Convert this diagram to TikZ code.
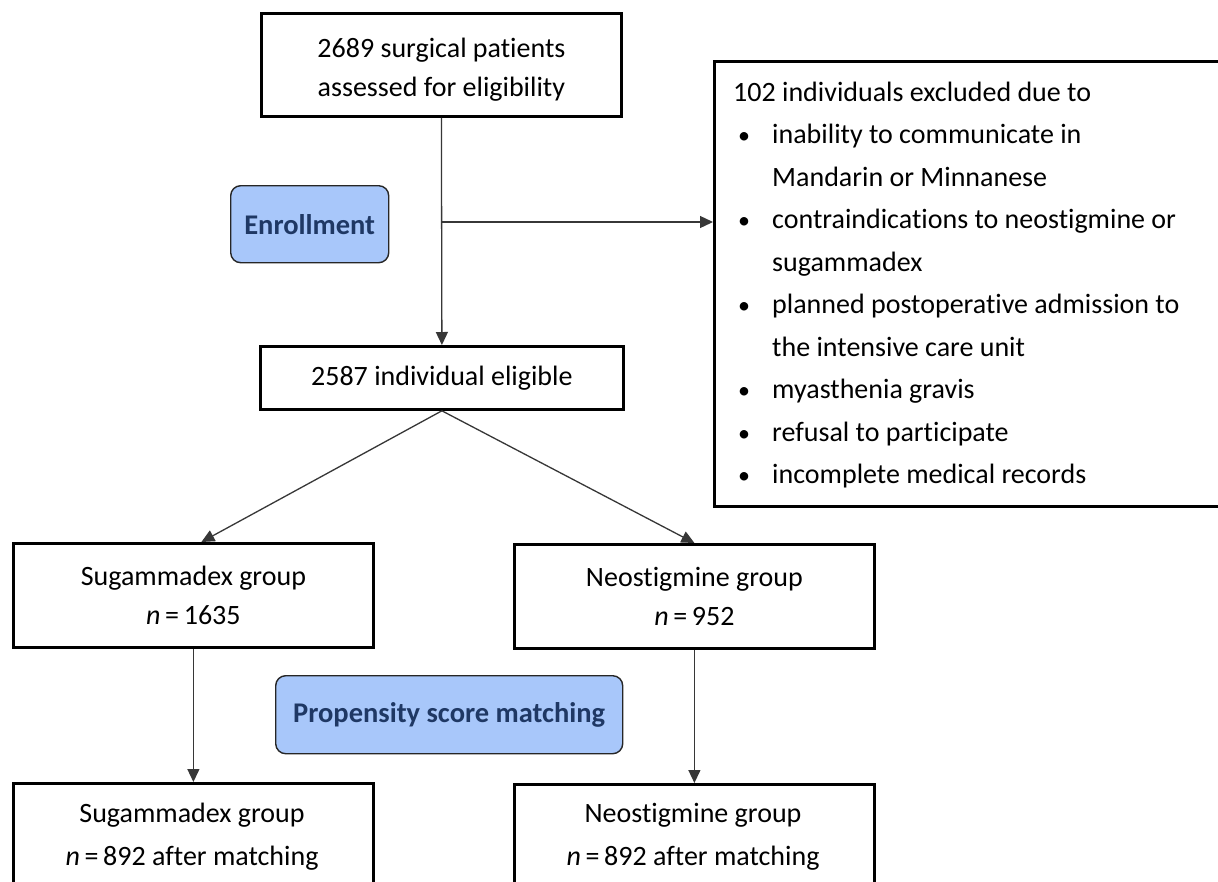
\documentclass[tikz,border=0pt]{standalone}
\usepackage{fontspec}
\setmainfont{Carlito}[RawFeature=-liga]
\usetikzlibrary{arrows.meta}
\definecolor{phase}{RGB}{168,199,250}
\definecolor{navy}{RGB}{31,56,100}
\definecolor{conn}{RGB}{55,55,55}
\begin{document}
\begin{tikzpicture}[x=1pt,y=-1pt,
  box/.style={draw=black,line width=2.8pt,fill=white,inner sep=0pt,anchor=north west,align=center,
    font=\fontsize{28}{39}\selectfont},
  tbox/.style={inner sep=0pt,align=center,font=\fontsize{28}{39}\selectfont},
  phasebox/.style={draw=black!85,line width=1.4pt,fill=phase,rounded corners=10pt,inner sep=0pt,
    anchor=north west,font=\fontsize{28.5}{30}\selectfont\bfseries,text=navy},
  conn/.style={draw=conn,line width=1.3pt},
  arr/.style={conn,-{Triangle[length=13pt,width=12pt]}},
  ltxt/.style={anchor=base west,inner sep=0pt,font=\fontsize{28}{30}\selectfont},
  bul/.style={anchor=base west,inner sep=0pt,font=\fontsize{24}{30}\selectfont}
]
\useasboundingbox (0,0) rectangle (1218,881);
\clip (0,0) rectangle (1218,881);
\fill[white] (0,0) rectangle (1218,881);

% top box
\node[box,minimum width=360pt,minimum height=103pt] (top) at (260,12) {};
\node[tbox] (toptxt) at ([yshift=-5pt]top.center) {2689 surgical patients\\assessed for eligibility};
% exclusion box
\node[box,minimum width=520pt,minimum height=445pt] (excl) at (713,60) {};
% eligible
\node[box,minimum width=363pt,minimum height=63pt] (elig) at (259,345) {2587 individual eligible};
% groups
\node[box,minimum width=360pt,minimum height=104pt] (sug) at (12,542)
  {Sugammadex group\\\textit{n}\,=\,1635};
\node[box,minimum width=360pt,minimum height=104pt] (neo) at (513,543)
  {Neostigmine group\\\textit{n}\,=\,952};
\node[box,minimum width=360pt,minimum height=123pt] (sug2) at (12,782) {};
\node[tbox,font=\fontsize{28}{43}\selectfont] (sug2txt) at (192,837)
  {Sugammadex group\\\textit{n}\,=\,892 after matching};
\node[box,minimum width=360pt,minimum height=123pt] (neo2) at (513,783) {};
\node[tbox,font=\fontsize{28}{43}\selectfont] (neo2txt) at (693,837)
  {Neostigmine group\\\textit{n}\,=\,892 after matching};

% phase labels
\node[phasebox,minimum width=158pt,minimum height=77pt] (enr) at (230,185) {Enrollment};
\node[phasebox,minimum width=347pt,minimum height=78pt] (psm) at (275,675) {Propensity score matching};

% exclusion text
\node[ltxt] (ex0) at (733,101) {102 individuals excluded due to};
\node[bul] (b1) at (738,143.5) {\textbullet};
\node[ltxt] (ex1) at (772,143.5) {inability to communicate in};
\node[ltxt] (ex1b) at (772,186) {Mandarin or Minnanese};
\node[bul] (b2) at (738,228.5) {\textbullet};
\node[ltxt] (ex2) at (772,228.5) {contraindications to neostigmine or};
\node[ltxt] (ex2b) at (772,271) {sugammadex};
\node[bul] (b3) at (738,313.5) {\textbullet};
\node[ltxt] (ex3) at (772,313.5) {planned postoperative admission to};
\node[ltxt] (ex3b) at (772,356) {the intensive care unit};
\node[bul] (b4) at (738,398.5) {\textbullet};
\node[ltxt] (ex4) at (772,398.5) {myasthenia gravis};
\node[bul] (b5) at (738,441) {\textbullet};
\node[ltxt] (ex5) at (772,441) {refusal to participate};
\node[bul] (b6) at (738,483.5) {\textbullet};
\node[ltxt] (ex6) at (772,483.5) {incomplete medical records};

% connectors
\coordinate (br) at (top.south |- 0,222);
\draw[arr] (top.south) -- (elig.north);
\draw[arr] (br) -- (br -| excl.west);
\draw[arr] (elig.south) -- ([xshift=8pt]sug.north);
\draw[arr] (elig.south) -- (neo.north);
\draw[arr] (sug.south) -- (sug2.north);
\draw[arr] (neo.south) -- (neo2.north);
\end{tikzpicture}
\end{document}
